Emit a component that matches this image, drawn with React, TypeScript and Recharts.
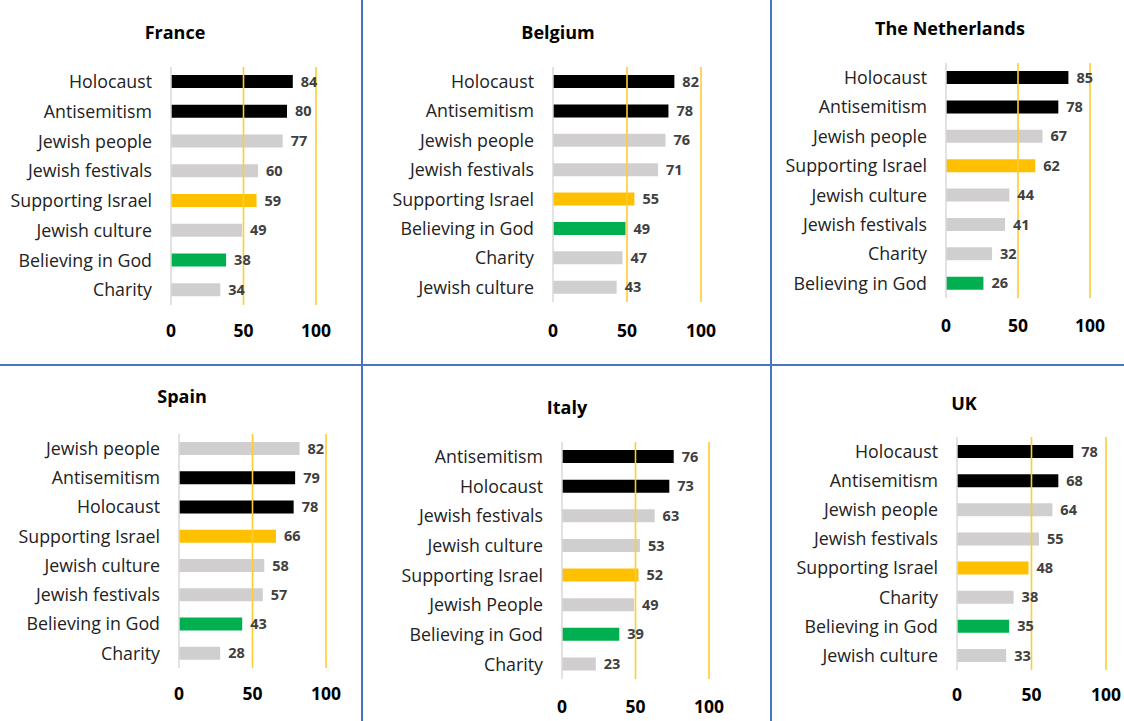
import React from "react";
import { BarChart, Bar, XAxis, YAxis, Cell, LabelList, ReferenceLine } from "recharts";

const franceCategories = ["Holocaust", "Antisemitism", "Jewish people", "Jewish festivals", "Supporting Israel", "Jewish culture", "Believing in God", "Charity"];
const franceValues = [84, 80, 77, 60, 59, 49, 38, 34];

const belgiumCategories = ["Holocaust", "Antisemitism", "Jewish people", "Jewish festivals", "Supporting Israel", "Believing in God", "Charity", "Jewish culture"];
const belgiumValues = [82, 78, 76, 71, 55, 49, 47, 43];

const netherlandsCategories = ["Holocaust", "Antisemitism", "Jewish people", "Supporting Israel", "Jewish culture", "Jewish festivals", "Charity", "Believing in God"];
const netherlandsValues = [85, 78, 67, 62, 44, 41, 32, 26];

const spainCategories = ["Jewish people", "Antisemitism", "Holocaust", "Supporting Israel", "Jewish culture", "Jewish festivals", "Believing in God", "Charity"];
const spainValues = [82, 79, 78, 66, 58, 57, 43, 28];

const italyCategories = ["Antisemitism", "Holocaust", "Jewish festivals", "Jewish culture", "Supporting Israel", "Jewish People", "Believing in God", "Charity"];
const italyValues = [76, 73, 63, 53, 52, 49, 39, 23];

const ukCategories = ["Holocaust", "Antisemitism", "Jewish people", "Jewish festivals", "Supporting Israel", "Charity", "Believing in God", "Jewish culture"];
const ukValues = [78, 68, 64, 55, 48, 38, 35, 33];

const axisTicks = [0, 50, 100];

const FONT = "'Open Sans', 'Noto Sans', sans-serif";

function colorFor(name: string): string {
  if (name === "Holocaust" || name === "Antisemitism") return "#000000";
  if (name === "Supporting Israel") return "#ffc000";
  if (name === "Believing in God") return "#00b050";
  return "#d0cece";
}

type PanelProps = {
  title: string;
  cats: string[];
  vals: number[];
  x0: number;
  x100: number;
  top: number;
  bottom: number;
  tickY: number;
  titleX: number;
  titleY: number;
};

function Panel({ title, cats, vals, x0, x100, top, bottom, tickY, titleX, titleY }: PanelProps) {
  const data = cats.map((c, i) => ({ name: c, value: vals[i] }));
  const yw = 170;
  const topPad = 10;
  const xAxisH = 40;
  const rightPad = 40;
  const plotW = x100 - x0;
  const plotH = bottom - top;
  const width = yw + plotW + rightPad;
  const height = topPad + plotH + xAxisH;
  const tickMargin = tickY - bottom - 5;
  return (
    <>
      <div
        style={{
          position: "absolute",
          left: titleX,
          top: titleY,
          transform: "translate(-50%, -50%)",
          fontFamily: FONT,
          fontWeight: 700,
          fontSize: 18,
          color: "#000",
          whiteSpace: "nowrap",
        }}
      >
        {title}
      </div>
      <div style={{ position: "absolute", left: x0 - yw, top: top - topPad }}>
        <BarChart
          width={width}
          height={height}
          data={data}
          layout="vertical"
          margin={{ top: topPad, right: rightPad, bottom: 0, left: 0 }}
          barSize={13}
        >
          <XAxis
            type="number"
            domain={[0, 100]}
            ticks={axisTicks}
            interval={0}
            axisLine={false}
            tickLine={false}
            tickSize={0}
            tickMargin={tickMargin}
            height={xAxisH}
            tick={{ fill: "#000", fontFamily: FONT, fontWeight: 700, fontSize: 17.5 }}
          />
          <YAxis
            type="category"
            dataKey="name"
            width={yw}
            axisLine={{ stroke: "#d9d9d9", strokeWidth: 1.5 }}
            tickLine={false}
            tickSize={0}
            tickMargin={19}
            interval={0}
            tick={{ fill: "#222", fontFamily: FONT, fontSize: 17.8 }}
          />
          <ReferenceLine x={50} stroke="#ffcc33" strokeWidth={1.6} />
          <ReferenceLine x={100} stroke="#ffcc33" strokeWidth={1.6} />
          <Bar dataKey="value" isAnimationActive={false}>
            {data.map((d, i) => (
              <Cell key={i} fill={colorFor(d.name)} />
            ))}
            <LabelList
              dataKey="value"
              position="right"
              offset={8}
              fill="#404040"
              fontFamily={FONT}
              fontWeight={700}
              fontSize={14.5}
            />
          </Bar>
        </BarChart>
      </div>
    </>
  );
}

export default function App() {
  const blue = "#4a74bf";
  return (
    <div
      style={{
        position: "absolute",
        left: 0,
        top: 0,
        width: 1124,
        height: 721,
        background: "#fff",
        overflow: "hidden",
      }}
    >
      <div style={{ position: "absolute", left: 361, top: 0, width: 2, height: 721, background: blue }} />
      <div style={{ position: "absolute", left: 770, top: 0, width: 2, height: 721, background: blue }} />
      <div style={{ position: "absolute", left: 0, top: 364, width: 1124, height: 2, background: blue }} />

      <Panel title="France" cats={franceCategories} vals={franceValues} x0={171} x100={316} top={67} bottom={305} tickY={330} titleX={175} titleY={32} />
      <Panel title="Belgium" cats={belgiumCategories} vals={belgiumValues} x0={553} x100={701} top={67} bottom={302} tickY={330} titleX={558} titleY={32} />
      <Panel title="The Netherlands" cats={netherlandsCategories} vals={netherlandsValues} x0={946} x100={1090} top={63} bottom={298} tickY={325} titleX={950} titleY={28} />
      <Panel title="Spain" cats={spainCategories} vals={spainValues} x0={179} x100={326} top={434} bottom={668} tickY={693} titleX={182} titleY={396} />
      <Panel title="Italy" cats={italyCategories} vals={italyValues} x0={562} x100={709} top={442} bottom={679} tickY={706} titleX={567} titleY={407} />
      <Panel title="UK" cats={ukCategories} vals={ukValues} x0={957} x100={1106} top={437} bottom={670} tickY={694} titleX={964} titleY={403} />
    </div>
  );
}
